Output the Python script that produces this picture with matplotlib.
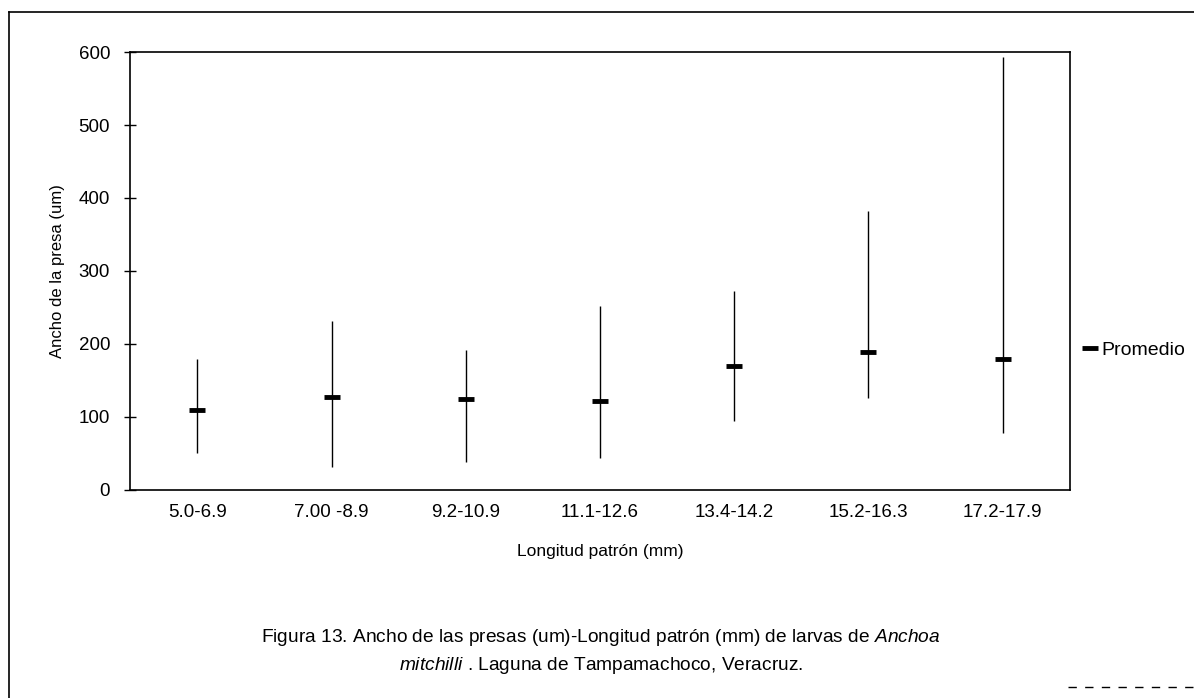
import matplotlib
matplotlib.use('Agg')
import matplotlib.pyplot as plt
from matplotlib.lines import Line2D

# Longitud patron (mm) classes
categorias = ['5.0-6.9', '7.00 -8.9', '9.2-10.9', '11.1-12.6', '13.4-14.2', '15.2-16.3', '17.2-17.9']
minimo = [50, 32, 39, 44, 95, 126, 78]
maximo = [179, 231, 192, 252, 272, 382, 593]
promedio = [110, 127, 124, 122, 170, 189, 180]

plt.rcParams['font.family'] = ['Liberation Sans', 'DejaVu Sans']
plt.rcParams['mathtext.fontset'] = 'custom'
plt.rcParams['mathtext.it'] = 'Liberation Sans:italic'
plt.rcParams['mathtext.rm'] = 'Liberation Sans'

fig = plt.figure(figsize=(11.94, 6.98), dpi=100)
ax = fig.add_axes([0.109, 0.298, 0.787, 0.6275])

x = list(range(len(categorias)))
ax.vlines(x, minimo, maximo, color='black', linewidth=1.0)
ax.plot(x, promedio, linestyle='none', marker='_', markersize=12, markeredgewidth=3.5,
        color='black', label='Promedio')

ax.set_xlim(-0.5, len(categorias) - 0.5)
ax.set_ylim(0, 600)
ax.set_yticks(range(0, 601, 100))
ax.set_xticks(x)
ax.set_xticklabels(categorias, fontsize=13.5)
ax.tick_params(axis='x', length=0, pad=10)
ax.tick_params(axis='y', direction='inout', length=9, width=1, labelsize=13.5, pad=10)
for s in ax.spines.values():
    s.set_linewidth(1.2)

ax.set_xlabel('Longitud patrón (mm)', fontsize=12.5, labelpad=17)
ax.set_ylabel('Ancho de la presa (um)', fontsize=12, labelpad=10)

ax.legend(loc='center left', bbox_to_anchor=(1.0, 0.32), frameon=False,
          handlelength=0.7, handletextpad=0.2, fontsize=14, borderaxespad=0.3)

# caption
fig.text(0.503, 1 - 638 / 698,
         'Figura 13. Ancho de las presas (um)-Longitud patrón (mm) de larvas de $\\mathit{Anchoa}$',
         ha='center', va='center', fontsize=13.8)
fig.text(0.503, 1 - 665 / 698,
         '$\\mathit{mitchilli}$ . Laguna de Tampamachoco, Veracruz.',
         ha='center', va='center', fontsize=13.8)

# outer page frame
W, H = 1194, 698
fig.add_artist(Line2D([9 / W, 9 / W], [0, 1 - 12 / H], color='black', linewidth=1.2))
fig.add_artist(Line2D([9 / W, 1], [1 - 12 / H, 1 - 12 / H], color='black', linewidth=1.2))
fig.add_artist(Line2D([1068 / W, 1], [1 - 687 / H, 1 - 687 / H], color='black',
                      linewidth=1.0, linestyle=(0, (6, 6))))

plt.savefig('out.png', dpi=100)
